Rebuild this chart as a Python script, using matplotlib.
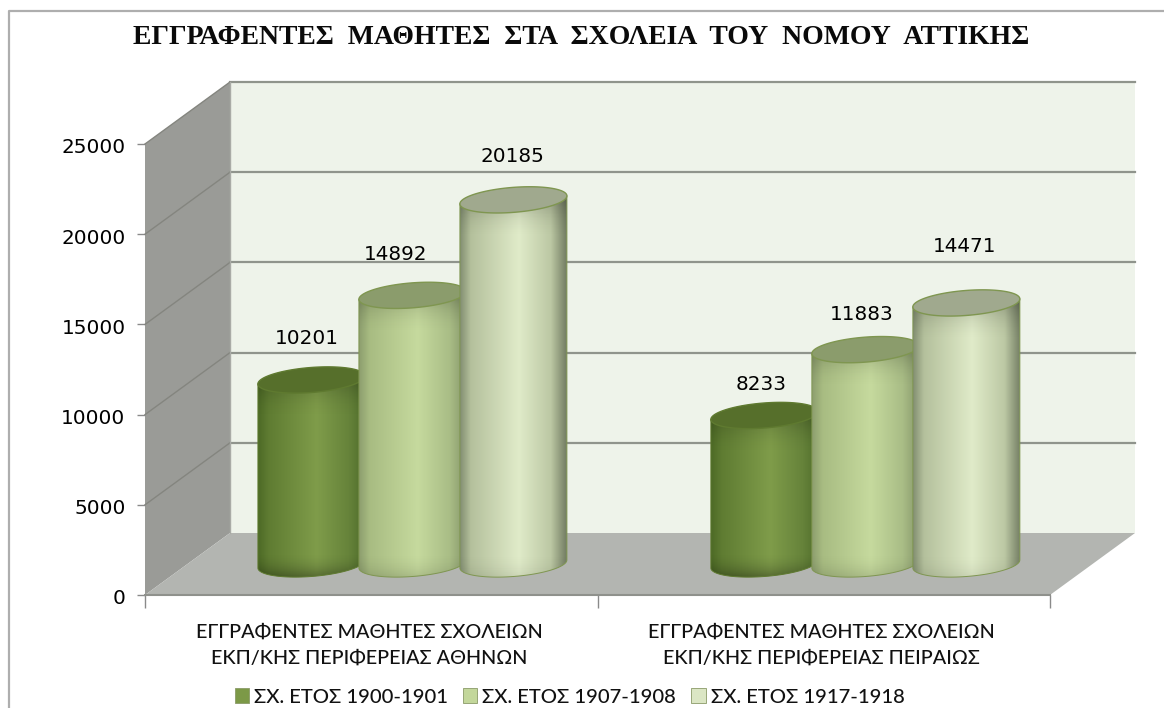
import numpy as np
import matplotlib
matplotlib.use("Agg")
import matplotlib.pyplot as plt
from matplotlib.colors import LinearSegmentedColormap
from matplotlib.patches import Patch, Polygon
from matplotlib.transforms import ScaledTranslation

title = "ΕΓΓΡΑΦΕΝΤΕΣ  ΜΑΘΗΤΕΣ  ΣΤΑ  ΣΧΟΛΕΙΑ  ΤΟΥ  ΝΟΜΟΥ  ΑΤΤΙΚΗΣ"
categories = ["ΕΓΓΡΑΦΕΝΤΕΣ ΜΑΘΗΤΕΣ ΣΧΟΛΕΙΩΝ\nΕΚΠ/ΚΗΣ ΠΕΡΙΦΕΡΕΙΑΣ ΑΘΗΝΩΝ",
              "ΕΓΓΡΑΦΕΝΤΕΣ ΜΑΘΗΤΕΣ ΣΧΟΛΕΙΩΝ\nΕΚΠ/ΚΗΣ ΠΕΡΙΦΕΡΕΙΑΣ ΠΕΙΡΑΙΩΣ"]
series_names = ["ΣΧ. ΕΤΟΣ 1900-1901", "ΣΧ. ΕΤΟΣ 1907-1908", "ΣΧ. ΕΤΟΣ 1917-1918"]
values_1900 = [10201, 8233]
values_1907 = [14892, 11883]
values_1917 = [20185, 14471]
yticks = [0, 5000, 10000, 15000, 20000, 25000]

W, H = 1164, 708
fig = plt.figure(figsize=(W / 100, H / 100), dpi=100, facecolor="white")
ax = fig.add_axes([145 / W, 1 - 595 / H, 905 / W, 451 / H])
ax.set_xlim(0, 2)
ax.set_ylim(0, 25000)
ax.patch.set_visible(False)
for s in ax.spines.values():
    s.set_visible(False)

# pixel to data scale
sx = 2 / 905
sy = 25000 / 451
depth_x = 85 * sx
depth_y = 62 * sy

# outer chart frame
fig.add_artist(plt.Line2D([9 / W, 9 / W, 1], [0, 1 - 11 / H, 1 - 11 / H], color="#aeaeae", lw=1.6))

# walls
back = Polygon([(depth_x, depth_y), (2 + depth_x, depth_y), (2 + depth_x, 25000 + depth_y), (depth_x, 25000 + depth_y)],
               fc="#eef3ea", ec="none", zorder=1, clip_on=False)
ax.add_patch(back)
side = Polygon([(0, 0), (depth_x, depth_y), (depth_x, 25000 + depth_y), (0, 25000)],
               fc="#9a9b97", ec="none", zorder=1, clip_on=False)
ax.add_patch(side)
floor = Polygon([(0, 0), (2, 0), (2 + depth_x, depth_y), (depth_x, depth_y)],
                fc="#b3b5b1", ec="none", zorder=1.5, clip_on=False)
ax.add_patch(floor)

# gridlines, back wall and left wall
for t in yticks[1:]:
    ax.plot([depth_x, 2 + depth_x], [t + depth_y] * 2, color="#8f948c", lw=1.6, zorder=2, clip_on=False)
    ax.plot([0, depth_x], [t, t + depth_y], color="#84857f", lw=1.0, zorder=2, clip_on=False)
ax.plot([0, 2], [0, 0], color="#8f918c", lw=1.5, zorder=2, clip_on=False)
ax.plot([depth_x, depth_x], [depth_y, 25000 + depth_y], color="#a9aba6", lw=1, zorder=2, clip_on=False)

# axis ticks
ax.set_xticks([0, 1, 2])
ax.set_xticklabels([])
ax.set_yticks(yticks)
ax.set_yticklabels([str(t) for t in yticks], fontsize=14.4, color="#000000", family="DejaVu Sans")
ax.tick_params(axis="y", length=6, width=1, color="#8a8a8a", pad=8)
ax.tick_params(axis="x", length=9, width=1, color="#8a8a8a")
for lab in ax.get_yticklabels():
    lab.set_transform(lab.get_transform() + ScaledTranslation(0, -2 / 100, fig.dpi_scale_trans))

# category labels
for c, lab in zip([0.5, 1.5], categories):
    ax.annotate(lab, (c, 0), xytext=(-2, -29), textcoords="offset pixels", ha="center", va="top",
                fontsize=14.2, family=["Lato", "Open Sans"], fontweight="medium", color="#111111", linespacing=1.6,
                annotation_clip=False)

# cylinders
stops = [0, 0.1, 0.55, 0.85, 1]
maps = [LinearSegmentedColormap.from_list("a", list(zip(stops, ["#4d6a26", "#5f7c32", "#7f9c4a", "#66833a", "#4f6c2a"]))),
        LinearSegmentedColormap.from_list("b", list(zip(stops, ["#8d9e6e", "#a8bc82", "#c6da9e", "#a9bd86", "#87976a"]))),
        LinearSegmentedColormap.from_list("c", list(zip(stops, ["#838f72", "#b4c09c", "#e0ebc9", "#bcc8a4", "#727c62"])))]
top_colors = ["#566f2b", "#8b9c6c", "#a0a98e"]
edge_colors = ["#5f7a30", "#7f9650", "#7f9650"]
floor_shade = [0.3, 0.12, 0.08]
offsets = [-101 * sx, 0, 101 * sx]
all_values = [values_1900, values_1907, values_1917]
label_shift = [[(-4.5, 41), (-3.5, 31)], [(-16.5, 41), (-3.5, 35.5)], [(-0.5, 43), (-1.5, 56)]]

half_w = 53.5 * sx
ell_b = 12.5 * sy
shear = 4 * sy / half_w
t = np.linspace(0, 2 * np.pi, 120)
grad = np.linspace(0, 1, 256).reshape(1, -1)

for g, cen in enumerate([0.497, 1.498]):
    for i in range(3):
        val = all_values[i][g]
        cx = cen + offsets[i] + depth_x / 2
        y0 = depth_y / 2
        y1 = y0 + val
        ex = half_w * np.cos(t)
        ey = ell_b * np.sin(t) + shear * ex
        z = 3 + i

        # body outline: lower rim then up to the top ellipse ends
        tl = np.linspace(np.pi, 2 * np.pi, 60)
        lx = half_w * np.cos(tl)
        ly = ell_b * np.sin(tl) + shear * lx
        xs = np.r_[cx + lx, cx + half_w, cx - half_w]
        ys = np.r_[y0 + ly, y1 + shear * half_w, y1 - shear * half_w]
        body = Polygon(np.c_[xs, ys], fc="none", ec="none")
        ax.add_patch(body)
        bottom, top = y0 - 2 * ell_b, y1 + 2 * ell_b
        im = ax.imshow(grad, cmap=maps[i], aspect="auto", zorder=z,
                       extent=[cx - half_w, cx + half_w, bottom, top])
        im.set_clip_path(body)

        # vertical shading under the lid and near the floor
        n = 300
        yy = np.linspace(top, bottom, n)
        lid = np.clip(1 - (y1 - yy) / (40 * sy), 0, 1) ** 2
        low = np.clip(1 - (yy - y0 + ell_b) / (24 * sy), 0, 1) ** 2
        shade = np.zeros((n, 1, 4))
        shade[:, 0, 3] = np.clip(0.22 * lid + floor_shade[i] * low, 0, 1)
        im2 = ax.imshow(shade, aspect="auto", zorder=z + 0.01,
                        extent=[cx - half_w, cx + half_w, bottom, top])
        im2.set_clip_path(body)

        ax.plot(np.r_[xs[-1], xs[:61]], np.r_[ys[-1], ys[:61]], color=edge_colors[i], lw=0.7, zorder=z + 0.02, clip_on=False)
        ax.add_patch(Polygon(np.c_[cx + ex, y1 + ey], fc=top_colors[i], ec=edge_colors[i], lw=1.0,
                             zorder=z + 0.1, clip_on=False))
        dx, dy = label_shift[i][g]
        ax.annotate(str(val), (cx, y1), xytext=(dx, dy), textcoords="offset pixels", ha="center", va="center",
                    fontsize=14.4, color="#000000", zorder=10, annotation_clip=False)

ax.set_xlim(0, 2)
ax.set_ylim(0, 25000)

fig.text(581 / W, 1 - 37 / H, title, ha="center", va="center", fontsize=20, fontweight="bold",
         family="Liberation Serif", color="#0a0a0a")

handles = [Patch(fc=maps[i](0.5), ec="#8a9a68", lw=0.6) for i in range(3)]
fig.legend(handles, series_names, loc="center", bbox_to_anchor=(569.5 / W, 1 - 697 / H), ncol=3, frameon=False,
           prop={"family": ["Lato", "Open Sans"], "size": 14.6, "weight": "medium"}, handlelength=0.7, handleheight=0.7,
           handletextpad=0.25, columnspacing=0.75, labelcolor="#111111", borderpad=0)

fig.savefig("out.png", dpi=100)
